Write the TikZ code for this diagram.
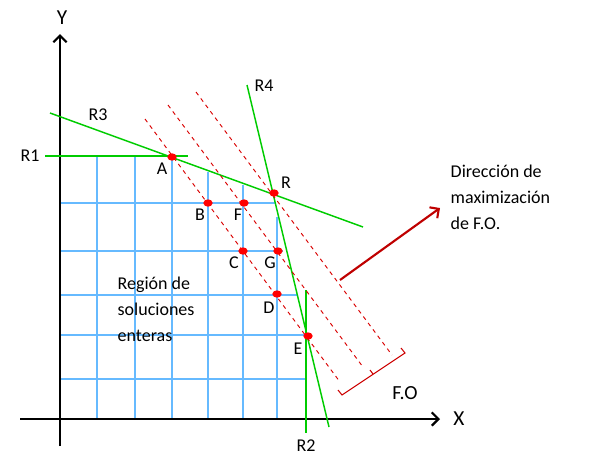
\documentclass[tikz,border=0pt]{standalone}
\usepackage{fontspec}
\setmainfont{Carlito}
\usetikzlibrary{arrows.meta,shapes.geometric}
\begin{document}
\begin{tikzpicture}[x=0.75pt,y=-0.75pt,font=\fontsize{13.5}{19.5}\selectfont]

\tikzstyle{grid} = [draw=blue!45!cyan!60!white, line width=0.9pt]
\tikzstyle{restr} = [draw=green!80!black, line width=1.1pt]
\tikzstyle{objline} = [draw=red!85!black, dashed, line width=0.7pt]
\tikzstyle{pt} = [ellipse, fill=red, inner sep=0pt, minimum width=7pt, minimum height=5.5pt]

\useasboundingbox (0,0) rectangle (600,461);

%Grid of integer solutions

\foreach \gx in {97,135,172} \draw[grid] (\gx,156) -- (\gx,419);
\draw[grid] (208,172) -- (208,419);
\draw[grid] (243,185) -- (243,419);
\draw[grid] (277,217) -- (277,419);
\draw[grid] (60,203) -- (275,203);
\draw[grid] (60,251) -- (283,251);
\draw[grid] (60,295) -- (297,295);
\draw[grid] (60,335) -- (306,335);
\draw[grid] (60,379) -- (306,379);

%Axes

\draw[line width=1.6pt, -{Straight Barb[length=5pt,width=10pt]}] (60,446) -- (60,34);
\draw[line width=1.6pt, -{Straight Barb[length=5pt,width=10pt]}] (20,419) -- (440,419);
\node (y_lab) at (62,18) {\fontsize{16}{18}\selectfont Y};
\node (x_lab) at (459,419) {\fontsize{16}{18}\selectfont X};

%Restrictions

\draw[restr] (45,156) -- (188,156);
\draw[restr] (50,113) -- (363,227);
\draw[restr] (247,85) -- (329,427);
\draw[restr] (306,290) -- (306,433);
\node (r1) at (30,156) {R1};
\node (r3) at (98,115) {R3};
\node (r4) at (264,86) {R4};
\node (r2) at (306,446) {R2};

%Objective function lines

\draw[objline] (145,119) -- (340,382);
\draw[objline] (168,105) -- (363,367);
\draw[objline] (196,92) -- (392,355);

\draw[red!80!black, line width=0.8pt] (338,390) -- (342,395) -- (405,353) -- (401,348);
\draw[red!80!black, line width=0.8pt] (373,374) -- (370,370);
\node (fo) at (405,393) {\fontsize{15}{17}\selectfont F.O};

%Points

\node[pt] (A) at (172,157) {};
\node[pt] (B) at (208,203) {};
\node[pt] (F) at (244,203) {};
\node[pt] (R) at (274,193) {};
\node[pt] (C) at (243,251) {};
\node[pt] (G) at (278,251) {};
\node[pt] (D) at (277,294) {};
\node[pt] (E) at (308,336) {};
\node at (162,169) {A};
\node at (200,215) {B};
\node at (238,215) {F};
\node at (286,183) {R};
\node at (234,263) {C};
\node at (270,263) {G};
\node at (269,308) {D};
\node at (298,349) {E};

%Labels

\node[align=left, anchor=west] (region) at (113,309) {Región de\\soluciones\\enteras};
\node[align=left, anchor=west] (dir) at (446,197) {Dirección de\\maximización\\de F.O.};

\coordinate (arr_s) at (340,280);
\coordinate (arr_e) at (440,208);
\draw[red!75!black, line width=1.6pt, -{Straight Barb[length=5pt,width=10pt]}] (arr_s) -- (arr_e);

\end{tikzpicture}
\end{document}
